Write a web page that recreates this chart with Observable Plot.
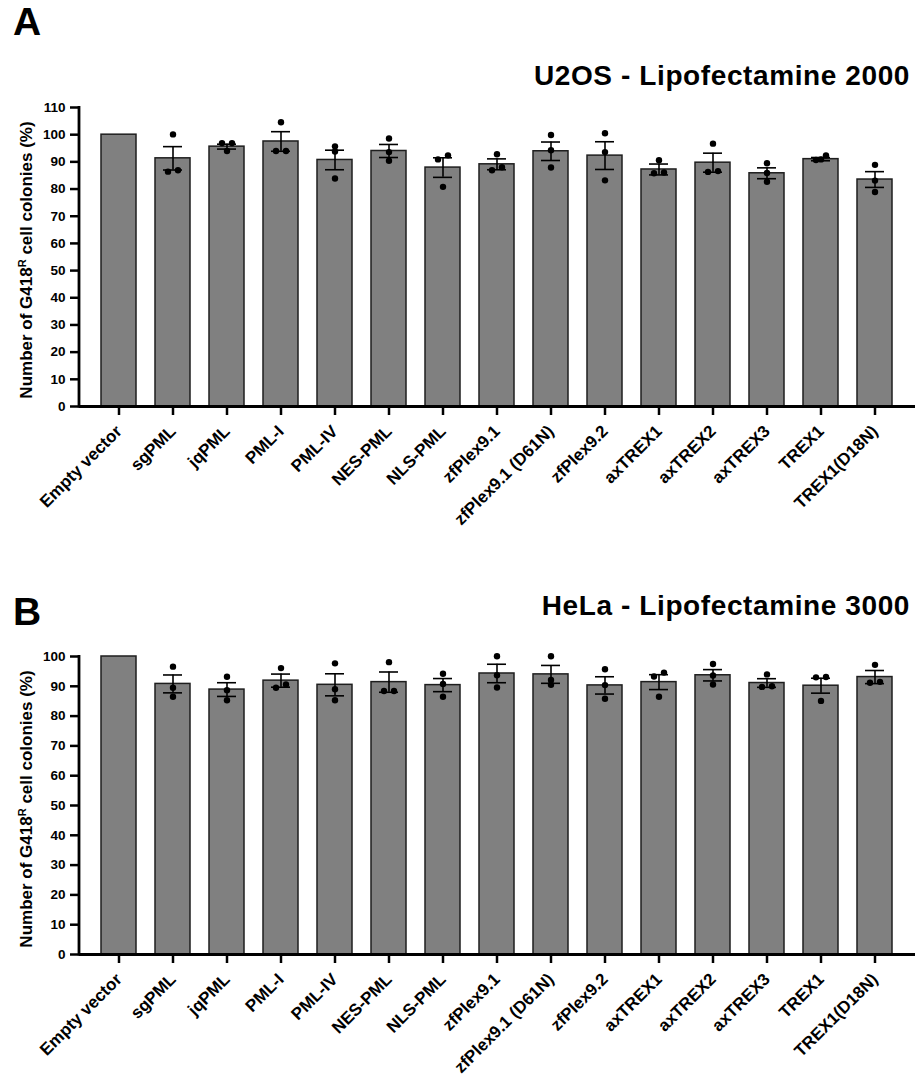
<!DOCTYPE html>
<html>
<head>
<meta charset="utf-8">
<script src="https://cdn.jsdelivr.net/npm/d3@7"></script>
<script src="https://cdn.jsdelivr.net/npm/@observablehq/plot@0.6"></script>
<style>
  body { margin: 0; background: #fff; color: #000; font-family: "Liberation Sans", Arial, sans-serif; }
  #root { position: relative; width: 919px; height: 1076px; overflow: hidden; }
  .abs { position: absolute; }
  .panel { font-weight: bold; font-size: 39px; line-height: 1; }
  .title { font-weight: bold; font-size: 28px; line-height: 1; letter-spacing: 0.6px; white-space: nowrap; right: 9px; }
  .ylab { font-weight: bold; font-size: 17px; line-height: 20px; width: 340px; height: 20px; text-align: center;
          transform: rotate(-90deg); white-space: nowrap; }
  .ylab sup { font-size: 0.65em; line-height: 0; vertical-align: 0.55em; }
</style>
</head>
<body>
<div id="root">
  <div class="abs panel" style="left:13px;top:2px;">A</div>
  <div class="abs title" style="top:62px;">U2OS - Lipofectamine 2000</div>
  <div class="abs ylab" style="left:-143px;top:250px;">Number of G418<sup>R</sup> cell colonies (%)</div>
  <div class="abs" id="chartA" style="left:0;top:80px;"></div>

  <div class="abs panel" style="left:13px;top:592px;">B</div>
  <div class="abs title" style="top:592px;">HeLa - Lipofectamine 3000</div>
  <div class="abs ylab" style="left:-143px;top:799px;">Number of G418<sup>R</sup> cell colonies (%)</div>
  <div class="abs" id="chartB" style="left:0;top:630px;"></div>
</div>
<script>
// ---- Data ----
const names = ["Empty vector","sgPML","jqPML","PML-I","PML-IV","NES-PML","NLS-PML","zfPlex9.1",
  "zfPlex9.1 (D61N)","zfPlex9.2","axTREX1","axTREX2","axTREX3","TREX1","TREX1(D18N)"];

// Panel A: U2OS - Lipofectamine 2000
const meansA = [100, 91.3, 95.6, 97.5, 90.7, 94.0, 87.9, 89.1, 93.9, 92.3, 87.2, 89.7, 85.8, 91.0, 83.5];
const semA   = [0, 4.3, 0.9, 3.6, 3.6, 2.4, 3.6, 2.0, 3.4, 5.1, 2.0, 3.5, 2.0, 0.6, 2.9];
const pointsA = [null,
  [100.1, 86.9, 86.4], [96.9, 96.9, 94.0], [104.6, 94.0, 94.0], [95.7, 93.8, 83.9],
  [98.6, 93.6, 90.4], [92.4, 90.9, 80.8], [92.8, 88.0, 86.9], [99.9, 94.3, 87.9],
  [100.5, 93.6, 83.2], [90.6, 86.1, 85.8], [96.7, 86.6, 86.3], [89.5, 85.9, 82.7],
  [92.4, 90.9, 90.7], [88.9, 83.1, 78.9]];
const ticksA = [0,10,20,30,40,50,60,70,80,90,100,110];

// Panel B: HeLa - Lipofectamine 3000
const meansB = [100, 90.8, 88.9, 91.9, 90.5, 91.4, 90.4, 94.3, 94.0, 90.3, 91.4, 93.7, 91.1, 90.2, 93.1];
const semB   = [0, 3.0, 2.3, 2.2, 3.7, 3.4, 2.2, 3.1, 3.0, 2.9, 2.5, 1.9, 1.45, 2.5, 2.2];
const pointsB = [null,
  [96.6, 89.5, 86.5], [93.2, 88.7, 85.3], [96.1, 90.6, 89.5], [97.7, 89.0, 85.3],
  [98.1, 88.4, 88.4], [94.2, 90.8, 86.5], [100.1, 93.7, 89.6], [100.1, 92.1, 90.5],
  [95.7, 90.4, 85.8], [94.6, 93.3, 86.5], [97.5, 93.6, 90.6], [94.0, 90.0, 89.8],
  [93.1, 93.0, 85.1], [97.2, 91.5, 91.2]];
const ticksB = [0,10,20,30,40,50,60,70,80,90,100];

// ---- Drawing ----
function yAxisLine(ymax) {
  return (index, scales, values, dims) => {
    return d3.create("svg:line")
      .attr("x1", dims.marginLeft).attr("x2", dims.marginLeft)
      .attr("y1", scales.y(ymax) - 1).attr("y2", scales.y(0) + 1.4)
      .attr("stroke", "#000").attr("stroke-width", 2.8).node();
  };
}

function spread(points, ymax, plotH) {
  const thr = 4.5 * ymax / plotH;
  const out = [];
  points.forEach((vals, i) => {
    if (!vals) return;
    const sorted = vals.slice().sort((a, b) => a - b);
    const clusters = [];
    sorted.forEach(v => {
      const last = clusters[clusters.length - 1];
      if (last && v - last[last.length - 1] < thr) last.push(v); else clusters.push([v]);
    });
    clusters.forEach(c => {
      const ks = c.length === 1 ? [0] : c.length === 2 ? [-1, 1] : [-1, 0, 1];
      c.forEach((v, j) => out.push({name: names[i], v, k: ks[j]}));
    });
  });
  return out;
}

function makePanel(means, sems, points, ymax, ticks, marginTop, plotH, marginBottom) {
  const bars = names.map((n, i) => ({name: n, mean: means[i], sem: sems[i]}));
  const errs = bars.filter(d => d.sem > 0);
  const pts = spread(points, ymax, plotH);
  return Plot.plot({
    width: 919,
    height: marginTop + plotH + marginBottom,
    marginTop, marginBottom, marginLeft: 79, marginRight: 4,
    style: {fontFamily: "'Liberation Sans', Arial, sans-serif", background: "transparent", color: "#000", overflow: "visible"},
    x: {domain: names, paddingInner: 0.345, paddingOuter: 0.37, label: null},
    y: {domain: [0, ymax], label: null},
    marks: [
      Plot.barY(bars, {x: "name", y: "mean", fill: "#808080", stroke: "#1e1e1e", strokeWidth: 1.5}),
      Plot.ruleX(errs, {x: "name", y1: d => d.mean - d.sem, y2: d => d.mean + d.sem, stroke: "#000", strokeWidth: 1.6}),
      Plot.tickY(errs, {x: "name", y: d => d.mean + d.sem, insetLeft: 8, insetRight: 8, stroke: "#000", strokeWidth: 1.6}),
      Plot.tickY(errs, {x: "name", y: d => d.mean - d.sem, insetLeft: 8, insetRight: 8, stroke: "#000", strokeWidth: 1.6}),
      ...[-1, 0, 1].map(k => Plot.dot(pts.filter(p => p.k === k), {x: "name", y: "v", r: 3.2, fill: "#000", dx: k * 5})),
      Plot.axisY({ticks, tickSize: 9, tickPadding: 5, strokeWidth: 2.5, fontSize: 13.5, fontWeight: "bold", label: null}),
      Plot.axisX({tickSize: 9, tickPadding: 13, tickRotate: -45, strokeWidth: 2.5, fontSize: 17, fontWeight: "bold", label: null}),
      Plot.ruleY([0], {stroke: "#000", strokeWidth: 2.8}),
      yAxisLine(ymax)
    ]
  });
}

document.getElementById("chartA").append(makePanel(meansA, semA, pointsA, 110, ticksA, 27, 299, 140));
document.getElementById("chartB").append(makePanel(meansB, semB, pointsB, 100, ticksB, 26, 298, 122));
</script>
</body>
</html>
